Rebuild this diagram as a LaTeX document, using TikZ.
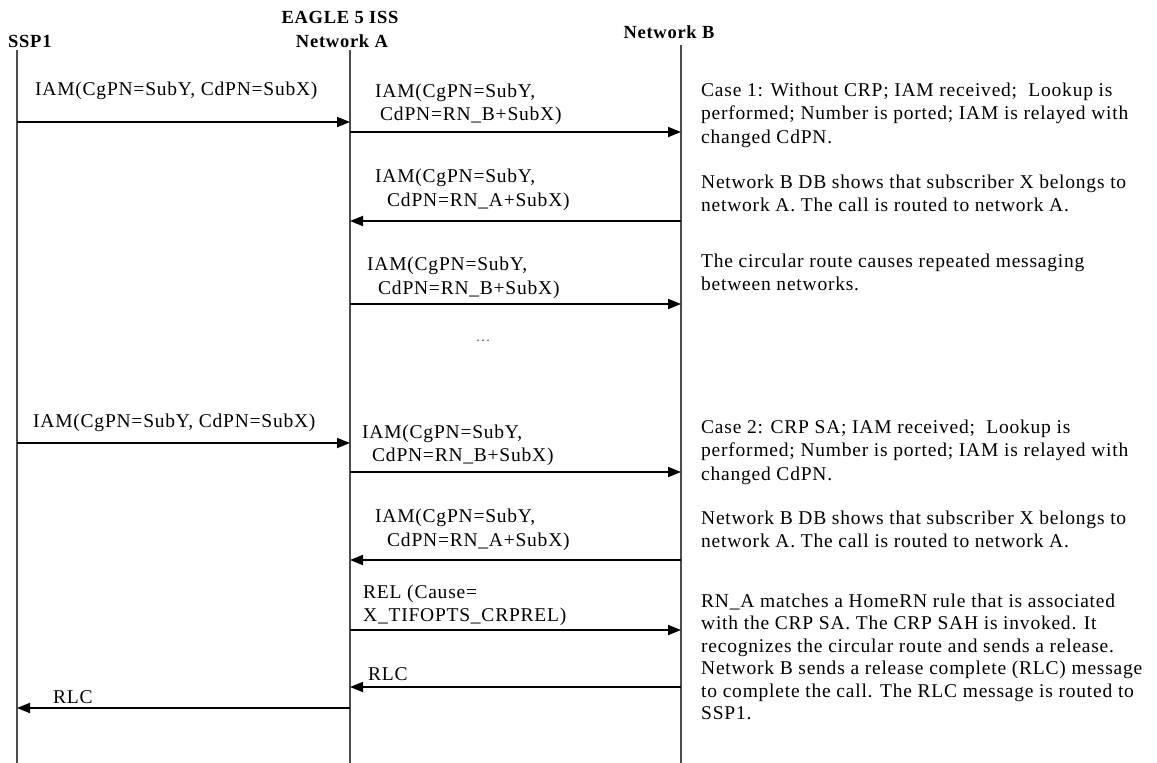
\documentclass[tikz,border=0pt]{standalone}
\usepackage{fontspec}
\setmainfont{Liberation Serif}[LetterSpace=4]
\usetikzlibrary{arrows.meta}

\begin{document}
\begin{tikzpicture}[x=1pt,y=-1pt,>={Triangle[length=13pt,width=10pt]},
	lifeline/.style={draw=black!70,line width=1.3pt},
	msg/.style={->,line width=1.8pt},
	head/.style={font=\fontsize{18.5}{20}\selectfont\bfseries,inner sep=0pt,anchor=base},
	lbl/.style={font=\fontsize{19.5}{23.5}\selectfont,inner sep=0pt,anchor=base west,align=left}]

\useasboundingbox (0,0) rectangle (1157,763);

% lifelines
\coordinate (sspT) at (17,50);   \coordinate (sspB) at (17,763);
\coordinate (netaT) at (350,50); \coordinate (netaB) at (350,763);
\coordinate (netbT) at (681,45); \coordinate (netbB) at (681,763);

\draw[lifeline] (sspT)--(sspB);
\draw[lifeline] (netaT)--(netaB);
\draw[lifeline] (netbT)--(netbB);

\node[head,anchor=base west] (ssp) at (8,47) {SSP1};
\node[head] (eagle) at (340,23) {EAGLE 5 ISS};
\node[head] (neta) at (342,47) {Network A};
\node[head] (netb) at (669,38) {Network B};

% message end points on the lifelines
\foreach \y [count=\i] in {122,132,221,304,443,472,560,630,687,708}{
	\coordinate (s\i) at (17,\y);
	\coordinate (a\i) at (350,\y);
	\coordinate (b\i) at (681,\y);
}

\draw[msg] (s1)--(a1);
\draw[msg] (a2)--(b2);
\draw[msg] (b3)--(a3);
\draw[msg] (a4)--(b4);
\draw[msg] (s5)--(a5);
\draw[msg] (a6)--(b6);
\draw[msg] (b7)--(a7);
\draw[msg] (a8)--(b8);
\draw[msg] (b9)--(a9);
\draw[msg] (a10)--(s10);

% message labels (placed at the baseline of their last line)
\node[lbl] (l1) at (35,95) {IAM(CgPN=SubY, CdPN=SubX)};
\node[lbl] (l2) at (375,120.5) {IAM(CgPN=SubY,\\\hspace*{5pt}CdPN=RN\_B+SubX)};
\node[lbl] (l3) at (375,206) {IAM(CgPN=SubY,\\\hspace*{12pt}CdPN=RN\_A+SubX)};
\node[lbl] (l4) at (367,294) {IAM(CgPN=SubY,\\\hspace*{11pt}CdPN=RN\_B+SubX)};
\node[text=black!65,font=\fontsize{15}{15}\selectfont] (dots) at (483,341) {\dots};
\node[lbl] (l5) at (33,427) {IAM(CgPN=SubY, CdPN=SubX)};
\node[lbl] (l6) at (362,461.5) {IAM(CgPN=SubY,\\\hspace*{10pt}CdPN=RN\_B+SubX)};
\node[lbl] (l7) at (375,546) {IAM(CgPN=SubY,\\\hspace*{12pt}CdPN=RN\_A+SubX)};
\node[lbl] (l8) at (363,621.5) {REL (Cause=\\X\_TIFOPTS\_CRPREL)};
\node[lbl] (l9) at (368,680) {RLC};
\node[lbl] (l10) at (53,703) {RLC};

% notes on the right
\node[lbl] (n1) at (701,143) {Case 1: Without CRP; IAM received;~ Lookup is\\performed; Number is ported; IAM is relayed with\\changed CdPN.};
\node[lbl] (n2) at (701,211.5) {Network B DB shows that subscriber X belongs to\\network A. The call is routed to network A.};
\node[lbl] (n3) at (701,290.5) {The circular route causes repeated messaging\\between networks.};
\node[lbl] (n4) at (701,480) {Case 2: CRP SA; IAM received;~ Lookup is\\performed; Number is ported; IAM is relayed with\\changed CdPN.};
\node[lbl] (n5) at (701,547.5) {Network B DB shows that subscriber X belongs to\\network A. The call is routed to network A.};
\node[lbl,font=\fontsize{19.5}{22.5}\selectfont] (n6) at (701,719.5) {RN\_A matches a HomeRN rule that is associated\\with the CRP SA. The CRP SAH is invoked. It\\recognizes the circular route and sends a release.\\Network B sends a release complete (RLC) message\\to complete the call. The RLC message is routed to\\SSP1.};

\end{tikzpicture}
\end{document}
